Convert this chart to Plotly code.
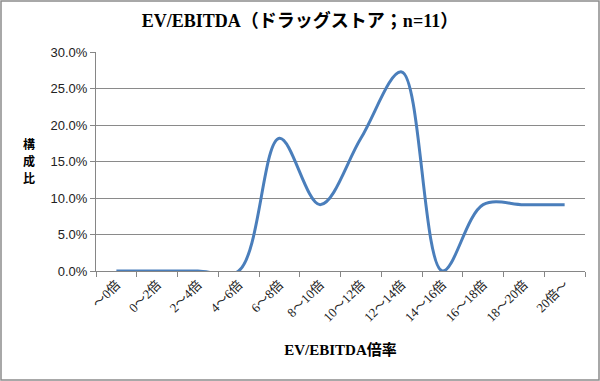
import plotly.graph_objects as go

categories = ["～0倍", "0～2倍", "2～4倍", "4～6倍", "6～8倍", "8～10倍", "10～12倍",
              "12～14倍", "14～16倍", "16～18倍", "18～20倍", "20倍～"]
shares = [0.0, 0.0, 0.0, 0.0, 2/11, 1/11, 2/11, 3/11, 0.0, 1/11, 1/11, 1/11]
y_ticks = [0, 0.05, 0.10, 0.15, 0.20, 0.25, 0.30]
y_title_chars = ["構", "成", "比"]

SERIF = "Liberation Serif, DejaVu Serif, Noto Sans CJK JP, serif"
SANS = "Liberation Sans, Arial, Noto Sans CJK JP, sans-serif"

fig = go.Figure()
fig.add_trace(go.Scatter(
    x=categories, y=shares, mode="lines",
    line=dict(color="#4A7EBB", width=3, shape="spline", smoothing=1.0),
    cliponaxis=True, showlegend=False, hoverinfo="skip",
))

W, H = 600, 381
L, R, T, B = 96, 15, 52, 110
pw, ph = W - L - R, H - T - B

annotations = []
for i, ch in enumerate(y_title_chars):
    annotations.append(dict(
        text="<b>" + ch + "</b>", xref="paper", yref="paper",
        x=(29 - L) / pw, y=(H - B - (143 + 17 * i)) / ph,
        xanchor="center", yanchor="middle", showarrow=False,
        font=dict(family="Noto Sans CJK JP", size=12, color="black"),
    ))

fig.update_layout(
    width=W, height=H,
    margin=dict(l=L, r=R, t=T, b=B),
    paper_bgcolor="white", plot_bgcolor="white",
    title=dict(text="<b>EV/EBITDA（ドラッグストア；n=11）</b>", x=0.5, xanchor="center",
               y=1 - 21 / H, yanchor="middle",
               font=dict(family=SERIF, size=18, color="black")),
    xaxis=dict(
        type="category", range=[-0.5, 11.5],
        tickson="boundaries", ticks="outside", ticklen=5, tickcolor="#868686",
        showline=True, linecolor="#868686", linewidth=1,
        showgrid=False, tickangle=-45,
        tickfont=dict(family=SERIF, size=13, color="#222"),
        title=dict(text="<b>EV/EBITDA倍率</b>", standoff=20,
                   font=dict(family=SERIF, size=15, color="black")),
    ),
    yaxis=dict(
        range=[0, 0.30], tickvals=y_ticks, tickformat=".1%",
        ticks="outside", ticklen=5, tickcolor="#868686",
        showline=True, linecolor="#868686", linewidth=1,
        showgrid=True, gridcolor="#8a8a8a", gridwidth=1,
        zeroline=False,
        tickfont=dict(family=SANS, size=13, color="#222"),
    ),
    annotations=annotations,
    shapes=[dict(
        type="rect", xref="paper", yref="paper",
        x0=(1 - L) / pw, x1=(W - 1 - L) / pw,
        y0=(H - B - (H - 1)) / ph, y1=(H - B - 1) / ph,
        line=dict(color="#8c8c8c", width=1.5), fillcolor="rgba(0,0,0,0)",
        layer="above",
    )],
)

fig.write_html("out.html", config={"displayModeBar": False},
               post_script="document.body.style.margin='0';document.body.style.overflow='hidden';")
